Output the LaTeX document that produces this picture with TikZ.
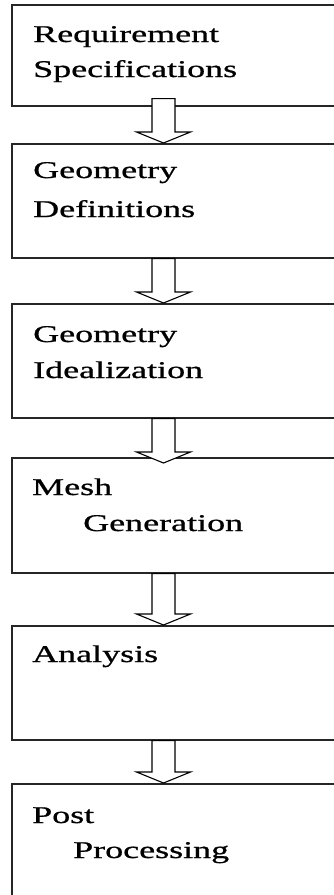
\documentclass[tikz,border=0pt]{standalone}
\usepackage{fontspec}
\setmainfont{Liberation Serif}[FakeStretch=1.5,FakeBold=0.8]
\usetikzlibrary{calc}
\newcommand\blockarr[2]{%
  \draw[flowarrow] let \p1=(#1), \p2=(#2) in
    (\x1-11.5pt,\y1) -- (\x1+11.5pt,\y1) -- (\x1+11.5pt,\y2+11pt) -- (\x1+27pt,\y2+11pt)
    -- (\x1,\y2) -- (\x1-27pt,\y2+11pt) -- (\x1-11.5pt,\y2+11pt) -- cycle;}
\begin{document}
\begin{tikzpicture}[x=1pt,y=-1pt,
  stage/.style={draw=black!85, line width=1.6pt, rectangle, minimum width=340pt,
    minimum height=#1, inner sep=0pt, anchor=north west},
  lbl/.style={anchor=base west, inner sep=0pt, font=\fontsize{24}{24}\selectfont},
  flowarrow/.style={draw=black, line width=1.1pt, fill=white, line join=miter}]
\useasboundingbox (0,0) rectangle (334,895);
\clip (0,0) rectangle (334,895);
\fill[white] (0,0) rectangle (334,895);

\node[stage=101pt] (b1) at (11,4) {};
\node[stage=114pt] (b2) at (11,143) {};
\node[stage=114pt] (b3) at (11,303) {};
\node[stage=115pt] (b4) at (11,457) {};
\node[stage=114pt] (b5) at (11,625) {};
\node[stage=130pt] (b6) at (11,783) {};

\node[lbl] (t1a) at (33,42) {Requirement};
\node[lbl] (t1b) at (33,77) {Specifications};
\node[lbl] (t2a) at (33,178) {Geometry};
\node[lbl] (t2b) at (33,217) {Definitions};
\node[lbl] (t3a) at (33,342) {Geometry};
\node[lbl] (t3b) at (33,378) {Idealization};
\node[lbl] (t4a) at (32,495) {Mesh};
\node[lbl] (t4b) at (83,531) {Generation};
\node[lbl] (t5a) at (32,662) {Analysis};
\node[lbl] (t6a) at (32,823) {Post};
\node[lbl] (t6b) at (73,858) {Processing};

\coordinate (axis) at (163.5,0);
\blockarr{$(axis |- b1.south)+(0,-8)$}{axis |- b2.north}
\blockarr{axis |- b2.south}{axis |- b3.north}
\blockarr{axis |- b3.south}{$(axis |- b4.north)+(0,6)$}
\blockarr{axis |- b4.south}{axis |- b5.north}
\blockarr{axis |- b5.south}{axis |- b6.north}
\end{tikzpicture}
\end{document}
